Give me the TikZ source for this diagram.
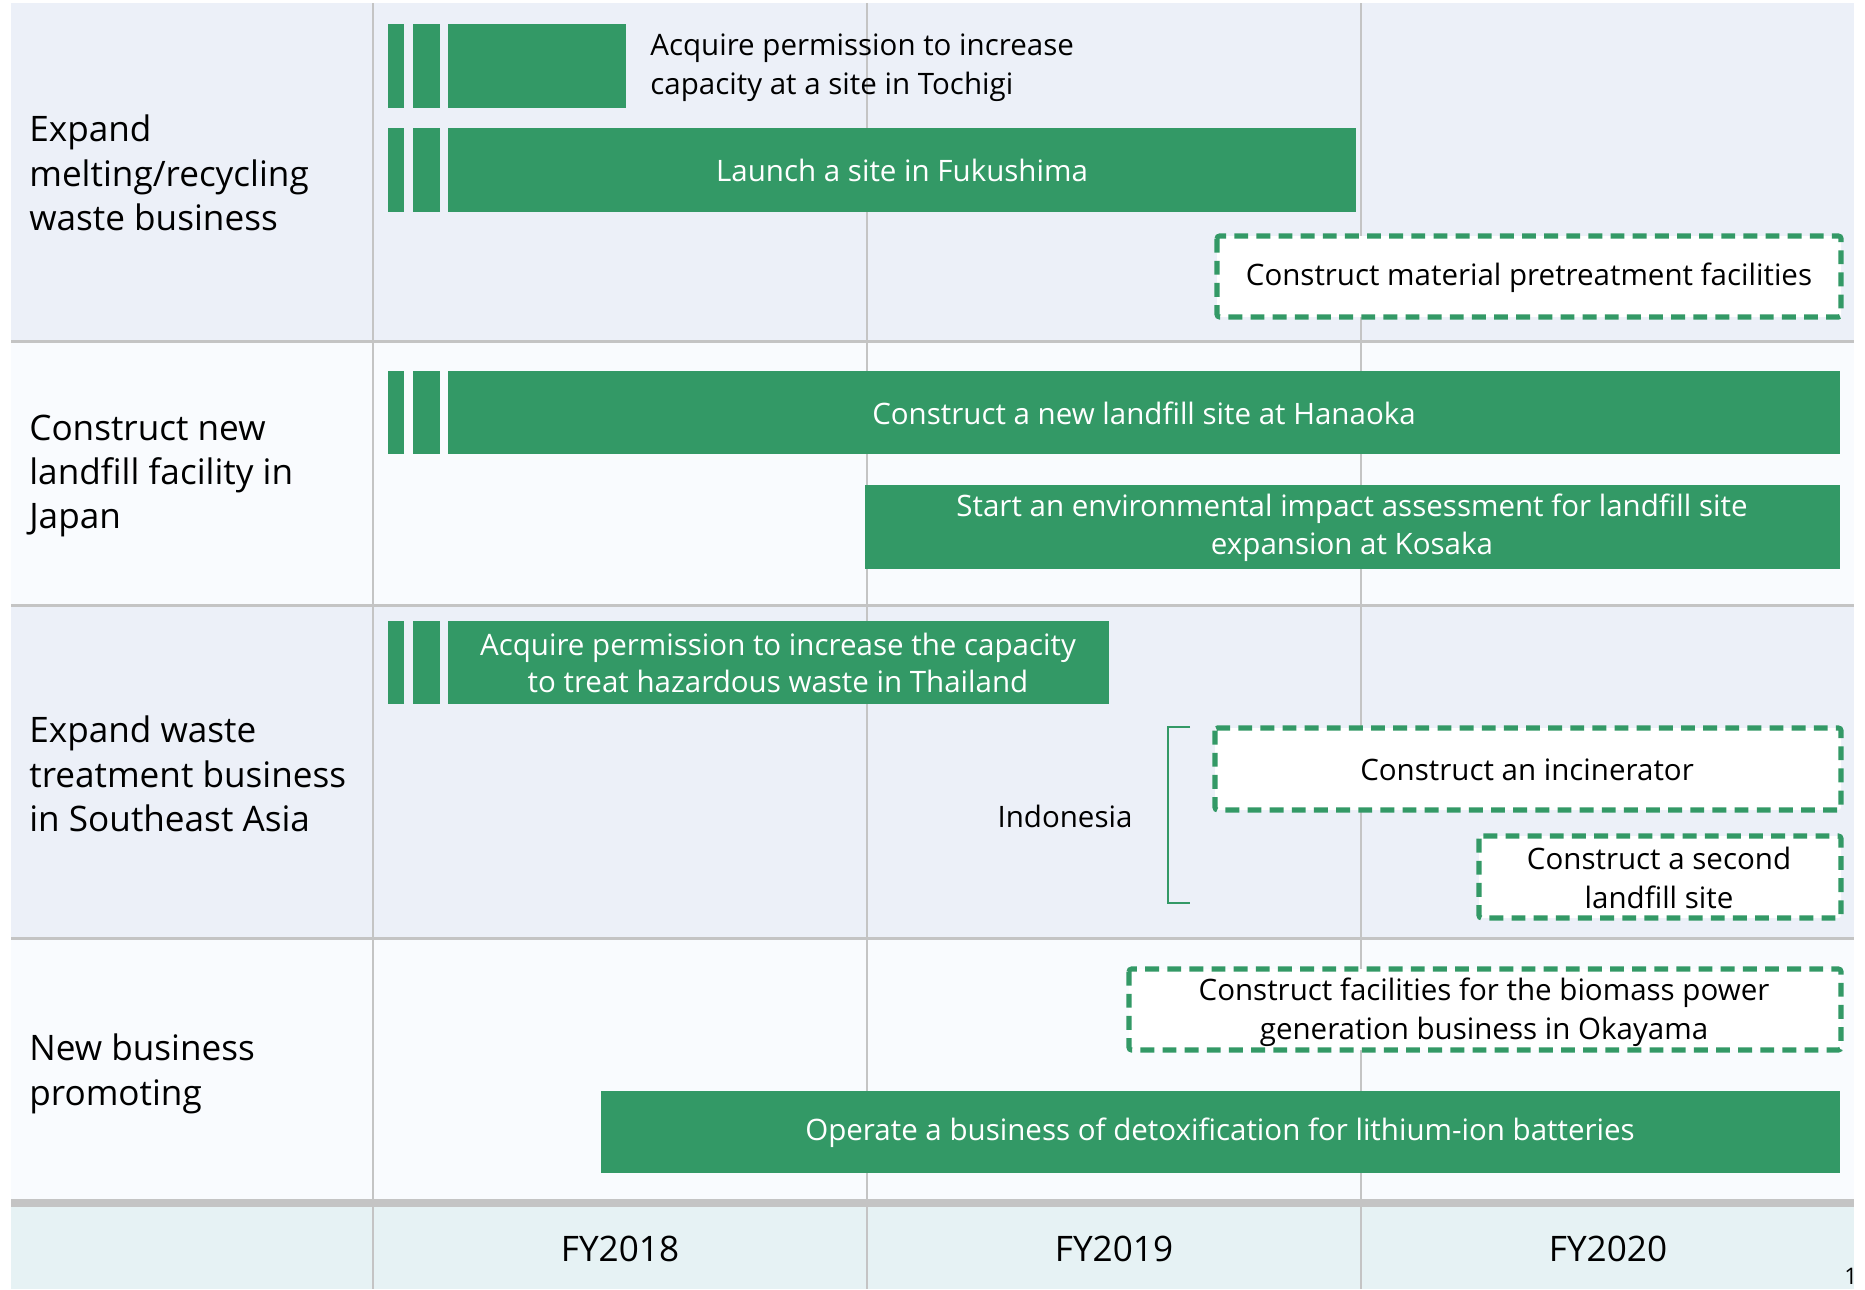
\documentclass[tikz,border=0pt]{standalone}
\usepackage{fontspec}
\setmainfont{Open Sans}
\usepackage{tikz}
\definecolor{bargreen}{RGB}{51,153,102}
\definecolor{rowblue}{RGB}{236,240,248}
\definecolor{rowwhite}{RGB}{249,251,254}
\definecolor{axisrow}{RGB}{230,242,244}
\definecolor{gridgrey}{RGB}{196,196,196}

\begin{document}
\begin{tikzpicture}[x=0.02cm,y=-0.02cm,
		greenbar/.style={fill=bargreen},
		bartext/.style={text=white,align=center,inner sep=0,font=\fontsize{16.8}{21.5}\selectfont},
		planbox/.style={draw=bargreen,fill=white,line width=2.9pt,dash pattern=on 7.9pt off 4.7pt,rounded corners=1.5pt},
		plantext/.style={text=black,align=center,inner sep=0,font=\fontsize{16.8}{22}\selectfont},
		goal/.style={anchor=west,align=left,inner sep=0,font=\fontsize{20}{25.3}\selectfont},
		year/.style={inner sep=0,font=\fontsize{20}{24}\selectfont},
		gridline/.style={draw=gridgrey,line width=1.7pt}]
		\useasboundingbox (0,0) rectangle (1865,1289);
		\fill[rowblue] (11,3) rectangle (1854,341);
		\fill[rowwhite] (11,341) rectangle (1854,605);
		\fill[rowblue] (11,605) rectangle (1854,938);
		\fill[rowwhite] (11,938) rectangle (1854,1199);
		\fill[gridgrey] (11,1199) rectangle (1854,1207);
		\fill[axisrow] (11,1207) rectangle (1854,1289);
		\foreach \y in {341,605,938}
			\draw[gridline] (11,\y) -- (1854,\y);
		\foreach \x in {373,867,1361}
			\draw[gridline,line width=1.1pt] (\x,3) -- (\x,1289);

		\node[goal] (melting) at (29,173) {Expand\\melting/recycling\\waste business};
		\node[goal] (landfill) at (29,476) {Construct new\\landfill facility in\\Japan};
		\node[goal] (asia) at (29,774) {Expand waste\\treatment business\\in Southeast Asia};
		\node[goal] (newbiz) at (29,1074) {New business\\promoting};

		\node[year] (fy18) at (620,1249) {FY2018};
		\node[year] (fy19) at (1114,1249) {FY2019};
		\node[year] (fy20) at (1608,1249) {FY2020};
		\node[anchor=base west,inner sep=0,font=\fontsize{13}{15}\selectfont] (page) at (1844,1284) {1};

		\foreach \ya/\yb in {24/108,128/212,371/454,621/704}{
			\fill[greenbar] (388,\ya) rectangle (404,\yb);
			\fill[greenbar] (413,\ya) rectangle (440,\yb);
		}

		\fill[greenbar] (448,24) rectangle (626,108);
		\node[plantext,anchor=west,align=left] (tochigi) at (650,68) {Acquire permission to increase\\capacity at a site in Tochigi};
		\fill[greenbar] (448,128) rectangle (1356,212);
		\node[bartext] (fukushima) at (902,170) {Launch a site in Fukushima};
		\draw[planbox] (1217,236) rectangle (1841,317);
		\node[plantext] (pretreat) at (1529,278) {Construct material pretreatment facilities};

		\fill[greenbar] (448,371) rectangle (1840,454);
		\node[bartext] (hanaoka) at (1144,413) {Construct a new landfill site at Hanaoka};
		\fill[greenbar] (865,485) rectangle (1840,569);
		\node[bartext] (kosaka) at (1352,528) {Start an environmental impact assessment for landfill site\\expansion at Kosaka};

		\fill[greenbar] (448,621) rectangle (1109,704);
		\node[bartext] (thailand) at (778,663) {Acquire permission to increase the capacity\\to treat hazardous waste in Thailand};
		\node[plantext] (indonesia) at (1065,816) {Indonesia};
		\draw[bargreen,line width=0.85pt] (1190,727) -- (1168,727) -- (1168,903) -- (1190,903);
		\draw[planbox] (1215,728) rectangle (1841,810);
		\node[plantext] (incinerator) at (1527,770) {Construct an incinerator};
		\draw[planbox] (1479,836) rectangle (1841,918);
		\node[plantext] (second) at (1659,878) {Construct a second\\landfill site};

		\draw[planbox] (1129,969) rectangle (1841,1050);
		\node[plantext] (biomass) at (1484,1012) {Construct facilities for the biomass power\\generation business in Okayama};
		\fill[greenbar] (601,1091) rectangle (1840,1173);
		\node[bartext] (lithium) at (1220,1133) {Operate a business of detoxification for lithium-ion batteries};
	\end{tikzpicture}
\end{document}
